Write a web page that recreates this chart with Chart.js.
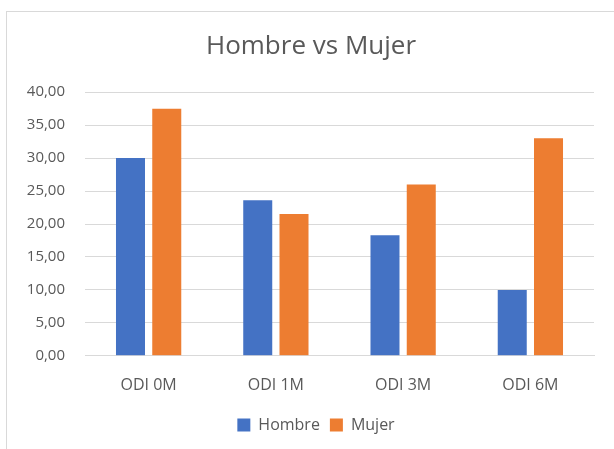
<!DOCTYPE html>
<html>
<head>
<meta charset="utf-8">
<script src="https://cdn.jsdelivr.net/npm/chart.js@4.4.0/dist/chart.umd.min.js"></script>
<style>
    html, body { margin: 0; padding: 0; background: #fff; overflow: hidden; }
    #wrap { position: relative; width: 614px; height: 449px; }
    #frame { position: absolute; left: 6px; top: 11px; width: 700px; height: 500px; border: 1px solid #d9d9d9; box-sizing: border-box; }
    canvas { position: absolute; left: 0; top: 0; }
</style>
</head>
<body>
<div id="wrap">
    <div id="frame"></div>
    <canvas id="chart" width="614" height="449"></canvas>
</div>
<script>
const categories = ['ODI 0M', 'ODI 1M', 'ODI 3M', 'ODI 6M'];
const hombreValues = [30.0, 23.6, 18.3, 10.0];
const mujerValues = [37.5, 21.5, 26.0, 33.0];
const yTicks = [0, 5, 10, 15, 20, 25, 30, 35, 40];

const textColor = '#595959';

// title and legend sit a little right of the canvas centre in the original
const shiftBlocks = {
    id: 'shiftBlocks',
    afterLayout(chart) {
        chart.titleBlock.left += 11;
        chart.titleBlock.right += 11;
        chart.legend.left += 16;
        chart.legend.right += 16;
    }
};

const ctx = document.getElementById('chart').getContext('2d');
new Chart(ctx, {
    type: 'bar',
    data: {
        labels: categories,
        datasets: [{
            label: 'Hombre',
            data: hombreValues,
            backgroundColor: '#4472C4',
            barPercentage: 0.8,
            categoryPercentage: 0.57
        }, {
            label: 'Mujer',
            data: mujerValues,
            backgroundColor: '#ED7D31',
            barPercentage: 0.8,
            categoryPercentage: 0.57
        }]
    },
    options: {
        responsive: false,
        animation: false,
        layout: {
            padding: { left: 6, right: 20, top: 20, bottom: 6 }
        },
        scales: {
            x: {
                grid: { display: false },
                border: { display: true, color: '#d9d9d9' },
                ticks: {
                    color: textColor,
                    padding: 12,
                    font: { family: 'Open Sans', size: 16 }
                }
            },
            y: {
                min: 0,
                max: 40,
                afterBuildTicks: axis => {
                    axis.ticks = yTicks.map(v => ({ value: v }));
                },
                afterFit: axis => {
                    axis.width = 79;
                },
                grid: { color: '#d9d9d9', drawTicks: false },
                border: { display: false },
                ticks: {
                    color: textColor,
                    padding: 20,
                    font: { family: 'Open Sans', size: 15 },
                    callback: v => v.toFixed(2).replace('.', ',')
                }
            }
        },
        plugins: {
            title: {
                display: true,
                text: 'Hombre vs Mujer',
                color: textColor,
                font: { family: 'Open Sans', size: 26, weight: 'normal' },
                padding: { top: 11, bottom: 30 }
            },
            legend: {
                position: 'bottom',
                labels: {
                    color: textColor,
                    boxWidth: 13,
                    boxHeight: 13,
                    padding: 10,
                    font: { family: 'Open Sans', size: 16 }
                }
            },
            tooltip: { enabled: false }
        }
    },
    plugins: [shiftBlocks]
});
</script>
</body>
</html>
